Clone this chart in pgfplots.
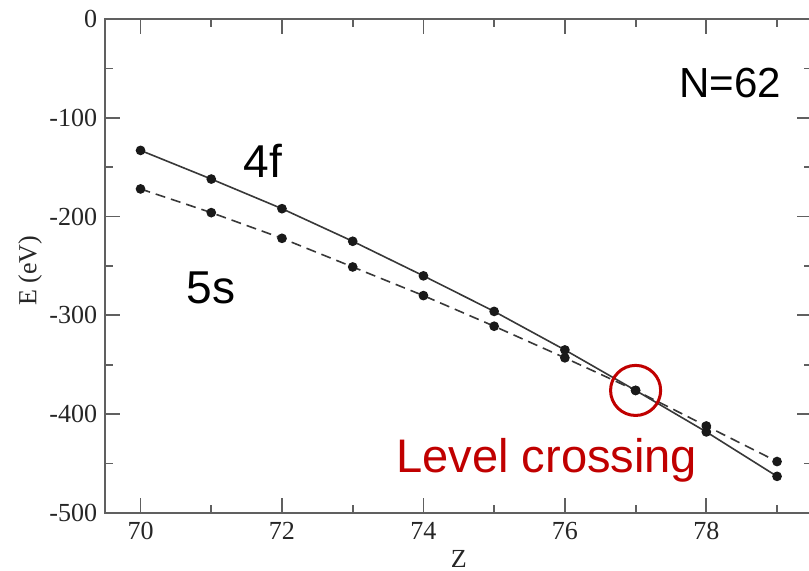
\documentclass[border=0pt]{standalone}
\usepackage{fontspec}
\setmainfont{Liberation Serif}
\newfontfamily\arial{Liberation Sans}
\usepackage{pgfplots}
\pgfplotsset{compat=1.18}
\definecolor{crossRed}{HTML}{C00000}
\definecolor{axGrey}{HTML}{606060}
\definecolor{lineGrey}{HTML}{383838}

\begin{document}
\begin{tikzpicture}
% 1 px of the reference = 0.5pt; axis box lower left sits at (0,0)
\useasboundingbox (-52.5pt,-29pt) rectangle (351.3pt,256pt);
\begin{axis}[
    at={(0,0)}, anchor=south west,
    scale only axis,
    width=353pt, height=246.5pt,
    xmin=69.5, xmax=79.5,
    ymin=-500, ymax=0,
    xtick={70,72,74,76,78},
    minor xtick={71,73,75,77,79},
    ytick={-500,-400,-300,-200,-100,0},
    minor ytick={-450,-350,-250,-150,-50},
    tick align=inside,
    major tick length=7.5pt,
    minor tick length=4pt,
    axis line style={draw=axGrey, line width=1pt},
    every tick/.style={draw=axGrey, line width=0.9pt},
    tick label style={font=\fontsize{13}{15}\selectfont, text=black!85},
    /pgf/number format/assume math mode=true,
    xticklabel style={yshift=-1pt},
    yticklabel style={xshift=-0.5pt},
    xlabel={Z},
    ylabel={E (eV)},
    label style={font=\fontsize{13}{15}\selectfont, text=black!85},
    xlabel style={at={(axis description cs:0.5,-0.093)}, anchor=center},
    ylabel style={at={(axis description cs:-0.106,0.49)}, anchor=center},
    clip=false,
]

% 4f level (solid)
\addplot[lineGrey, line width=0.8pt, mark=*, mark size=2pt,
         mark options={fill=black!90, draw=black!90}]
    coordinates {(70,-133) (71,-162) (72,-192) (73,-225) (74,-260)
                 (75,-296) (76,-335) (77,-376) (78,-418) (79,-463)};

% 5s level (dashed)
\addplot[lineGrey, line width=0.8pt, dash pattern=on 5pt off 3pt,
         mark=*, mark size=2pt,
         mark options={fill=black!90, draw=black!90, solid}]
    coordinates {(70,-172) (71,-196) (72,-222) (73,-251) (74,-280)
                 (75,-311) (76,-343) (77,-376) (78,-412) (79,-448)};

% annotations
\node[anchor=base west, inner sep=0pt, font=\arial\fontsize{23}{26}\selectfont]
    at (axis cs:71.45,-160) {4f};
\node[anchor=base west, inner sep=0pt, font=\arial\fontsize{23}{26}\selectfont]
    at (axis cs:70.65,-288) {5s};
\node[anchor=base west, inner sep=0pt, font=\arial\fontsize{21}{24}\selectfont]
    at (axis cs:77.61,-79) {N=62};
\node[anchor=base west, inner sep=0pt, text=crossRed,
      font=\arial\fontsize{23.5}{26}\selectfont]
    at (axis cs:73.61,-459) {Level crossing};
\draw[crossRed, line width=1.5pt] (axis cs:77,-376) circle[radius=12.5pt];

\end{axis}
\end{tikzpicture}
\end{document}
